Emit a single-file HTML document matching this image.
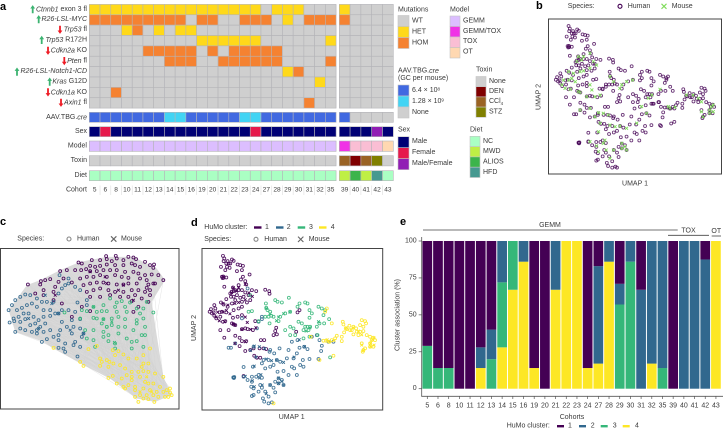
<!DOCTYPE html>
<html lang="en"><head><meta charset="utf-8"><title>HuMo cluster figure</title>
<style>
html,body{margin:0;padding:0;background:#fff}
svg{display:block;font-family:"Liberation Sans",sans-serif}
text{fill:#3a3a3a;font-size:7px;dominant-baseline:central}
.p{font-weight:bold;font-size:11px;fill:#000}
.i{font-style:italic}
.sw{stroke:#c4c4c4;stroke-width:.6}
.f{fill:none;stroke:#444;stroke-width:1}
</style></head><body>
<svg id="fig" xmlns="http://www.w3.org/2000/svg" width="723" height="429" viewBox="0 0 723 429">
<text class="p" x="0" y="7">a</text>
<text class="p" x="536" y="6">b</text>
<text class="p" x="0" y="222">c</text>
<text class="p" x="191" y="223">d</text>
<text class="p" x="400" y="222">e</text>

<g text-anchor="end">
<text x="87" y="9.3"><tspan class="i">Ctnnb1</tspan> exon 3 fl</text>
<text x="87" y="19.3" class="i">R26-LSL-MYC</text>
<text x="87" y="29.7"><tspan class="i">Trp53</tspan> fl</text>
<text x="87" y="40"><tspan class="i">Trp53</tspan> R172H</text>
<text x="87" y="50.7"><tspan class="i">Cdkn2a</tspan> KO</text>
<text x="87" y="61"><tspan class="i">Pten</tspan> fl</text>
<text x="87" y="71.7" class="i">R26-LSL-Notch1-ICD</text>
<text x="87" y="81.7"><tspan class="i">Kras</tspan> G12D</text>
<text x="87" y="92.3"><tspan class="i">Cdkn1a</tspan> KO</text>
<text x="87" y="102.7"><tspan class="i">Axin1</tspan> fl</text>
<text x="87" y="117.3">AAV.TBG.<tspan class="i">cre</tspan></text>
<text x="87" y="131.7">Sex</text>
<text x="87" y="146">Model</text>
<text x="87" y="160.7">Toxin</text>
<text x="87" y="175.7">Diet</text>
<text x="87" y="190">Cohort</text>
</g>
<g>
<path fill="#3cb371" transform="translate(32.7,9.3)" d="M0-4.2L2.4-.8H.9V4H-.9V-.8H-2.4Z"/>
<path fill="#3cb371" transform="translate(38.7,19.3)" d="M0-4.2L2.4-.8H.9V4H-.9V-.8H-2.4Z"/>
<path fill="#ee1c25" transform="translate(60,29.7) scale(1,-1)" d="M0-4.2L2.4-.8H.9V4H-.9V-.8H-2.4Z"/>
<path fill="#3cb371" transform="translate(41.7,40)" d="M0-4.2L2.4-.8H.9V4H-.9V-.8H-2.4Z"/>
<path fill="#ee1c25" transform="translate(48,50.7) scale(1,-1)" d="M0-4.2L2.4-.8H.9V4H-.9V-.8H-2.4Z"/>
<path fill="#ee1c25" transform="translate(64.3,61) scale(1,-1)" d="M0-4.2L2.4-.8H.9V4H-.9V-.8H-2.4Z"/>
<path fill="#3cb371" transform="translate(17,71.7)" d="M0-4.2L2.4-.8H.9V4H-.9V-.8H-2.4Z"/>
<path fill="#3cb371" transform="translate(49.7,81.7)" d="M0-4.2L2.4-.8H.9V4H-.9V-.8H-2.4Z"/>
<path fill="#ee1c25" transform="translate(48,92.3) scale(1,-1)" d="M0-4.2L2.4-.8H.9V4H-.9V-.8H-2.4Z"/>
<path fill="#ee1c25" transform="translate(61,102.7) scale(1,-1)" d="M0-4.2L2.4-.8H.9V4H-.9V-.8H-2.4Z"/>
</g>

<g id="heat"></g>

<g>
<text x="398" y="10">Mutations</text>
<rect class="sw" x="398" y="15.5" width="11" height="11" fill="#cfcfcf"/><text x="412" y="21">WT</text>
<rect class="sw" x="398" y="26.5" width="11" height="11" fill="#ffd91a"/><text x="412" y="32">HET</text>
<rect class="sw" x="398" y="37.5" width="11" height="11" fill="#f58231"/><text x="412" y="43">HOM</text>
<text x="450" y="10">Model</text>
<rect class="sw" x="450" y="16" width="10" height="10.5" fill="#dcbeff"/><text x="463" y="21">GEMM</text>
<rect class="sw" x="450" y="26.5" width="10" height="10.5" fill="#f032e6"/><text x="463" y="31.5">GEMM/TOX</text>
<rect class="sw" x="450" y="37" width="10" height="10.5" fill="#fabed4"/><text x="463" y="41.5">TOX</text>
<rect class="sw" x="450" y="47.5" width="10" height="10.5" fill="#ffd8b1"/><text x="463" y="52">OT</text>
<text x="398" y="71">AAV.TBG.<tspan class="i">cre</tspan></text>
<text x="398" y="78.5">(GC per mouse)</text>
<rect class="sw" x="398" y="85" width="11" height="11" fill="#4169e1"/><text x="412" y="90.5">6.4 × 10<tspan dy="-2" font-size="4.5">8</tspan></text>
<rect class="sw" x="398" y="96" width="11" height="11" fill="#42d4f4"/><text x="412" y="101.5">1.28 × 10<tspan dy="-2" font-size="4.5">9</tspan></text>
<rect class="sw" x="398" y="107" width="11" height="11" fill="#cfcfcf"/><text x="412" y="112.5">None</text>
<text x="476" y="70">Toxin</text>
<rect class="sw" x="476" y="76.5" width="10" height="10.2" fill="#cfcfcf"/><text x="489" y="81.5">None</text>
<rect class="sw" x="476" y="86.7" width="10" height="10.2" fill="#800000"/><text x="489" y="91.5">DEN</text>
<rect class="sw" x="476" y="96.9" width="10" height="10.2" fill="#9a6324"/><text x="489" y="101.5">CCl<tspan dy="1.5" font-size="4.5">4</tspan></text>
<rect class="sw" x="476" y="107.1" width="10" height="10.2" fill="#808000"/><text x="489" y="112">STZ</text>
<text x="398" y="130">Sex</text>
<rect class="sw" x="398" y="136.7" width="11" height="11" fill="#000075"/><text x="412" y="141.5">Male</text>
<rect class="sw" x="398" y="147.7" width="11" height="11" fill="#e6194b"/><text x="412" y="152.5">Female</text>
<rect class="sw" x="398" y="158.7" width="11" height="11" fill="#911eb4"/><text x="412" y="163.5">Male/Female</text>
<text x="470" y="130">Diet</text>
<rect class="sw" x="470" y="136.3" width="10" height="10.3" fill="#aaffc3"/><text x="483" y="141.5">NC</text>
<rect class="sw" x="470" y="146.6" width="10" height="10.3" fill="#bfef45"/><text x="483" y="151.5">MWD</text>
<rect class="sw" x="470" y="156.9" width="10" height="10.3" fill="#3cb44b"/><text x="483" y="162">ALIOS</text>
<rect class="sw" x="470" y="167.2" width="10" height="10.3" fill="#469990"/><text x="483" y="172.5">HFD</text>
</g>

<g>
<text x="567.7" y="6.5">Species:</text>
<circle cx="620" cy="6.3" r="2" fill="none" stroke="#440154" stroke-width="1.1"/>
<text x="627.7" y="6.5">Human</text>
<path d="M661.5 3.8l5 5m0-5l-5 5" stroke="#7fdc5a" stroke-width="1.1"/>
<text x="671.7" y="6.5">Mouse</text>
</g>
<g id="panelB"></g>
<rect class="f" x="548.5" y="19" width="173" height="155"/>
<text x="635" y="184" text-anchor="middle">UMAP 1</text>
<text transform="translate(539,97) rotate(-90)" text-anchor="middle">UMAP 2</text>

<g>
<text x="17.3" y="239">Species:</text>
<circle cx="69" cy="239" r="2" fill="none" stroke="#888" stroke-width="1.1"/>
<text x="77" y="239">Human</text>
<path d="M111 236.3l5.4 5.4m0-5.4l-5.4 5.4" stroke="#666" stroke-width="1.1"/>
<text x="121" y="239">Mouse</text>
</g>
<g id="panelC"></g>
<rect class="f" x="0.5" y="248.5" width="178.5" height="160.5"/>

<g>
<text x="204.3" y="227.3">HuMo cluster:</text>
<rect x="254" y="226.3" width="7.5" height="2.4" fill="#440154"/><text x="265" y="227.3">1</text>
<rect x="276" y="226.3" width="7.5" height="2.4" fill="#31688e"/><text x="286.7" y="227.3">2</text>
<rect x="297.7" y="226.3" width="7.5" height="2.4" fill="#35b779"/><text x="309" y="227.3">3</text>
<rect x="319" y="226.3" width="7.5" height="2.4" fill="#fde725"/><text x="330.7" y="227.3">4</text>
<text x="204.3" y="239.3">Species:</text>
<circle cx="256" cy="239.3" r="2" fill="none" stroke="#888" stroke-width="1.1"/>
<text x="264.3" y="239.3">Human</text>
<path d="M298 236.6l5.4 5.4m0-5.4l-5.4 5.4" stroke="#666" stroke-width="1.1"/>
<text x="308.7" y="239.3">Mouse</text>
</g>
<g id="panelD"></g>
<rect class="f" x="202" y="248.5" width="180.7" height="161.5"/>
<text x="291.7" y="417.7" text-anchor="middle">UMAP 1</text>
<text transform="translate(194.3,328) rotate(-90)" text-anchor="middle">UMAP 2</text>

<g id="panelE"></g>
<text x="550" y="225.3" text-anchor="middle">GEMM</text>
<line x1="423" x2="677.7" y1="230" y2="230" stroke="#444" stroke-width=".8"/>
<text x="688.5" y="231" text-anchor="middle">TOX</text>
<line x1="668" x2="709" y1="235.3" y2="235.3" stroke="#444" stroke-width=".8"/>
<text x="716.3" y="231.5" text-anchor="middle">OT</text>
<line x1="711.7" x2="721" y1="236" y2="236" stroke="#444" stroke-width=".8"/>
<text transform="translate(398,315) rotate(-90)" text-anchor="middle">Cluster association (%)</text>
<text x="572" y="417.7" text-anchor="middle">Cohorts</text>
<g>
<text x="506.7" y="426">HuMo cluster:</text>
<rect x="557" y="425" width="7" height="2.4" fill="#440154"/><text x="568" y="426">1</text>
<rect x="579" y="425" width="7" height="2.4" fill="#31688e"/><text x="590.7" y="426">2</text>
<rect x="600.7" y="425" width="7" height="2.4" fill="#35b779"/><text x="612.7" y="426">3</text>
<rect x="622.7" y="425" width="7" height="2.4" fill="#fde725"/><text x="635" y="426">4</text>
</g>
</svg>
<script>
// ---------- Panel a data ----------
const cohorts=[5,6,8,10,11,12,13,14,15,16,19,20,21,22,23,24,27,28,29,30,31,32,35,39,40,41,42,43];
const mutCtnnb1=[1,1,1,1,1,1,1,1,1,1,1,1,1,1,1,1,0,1,1,1,0,0,0,1,0,0,0,0];
const mutMyc=[2,2,2,2,2,2,2,2,2,0,2,2,0,0,2,2,2,0,1,0,2,2,2,2,0,0,0,0];
const mutTrp53=[0,0,0,1,2,0,1,0,1,1,0,0,0,0,0,0,0,0,0,0,0,0,0,0,0,0,0,0];
const mutR172h=[0,0,0,0,0,0,0,0,0,0,1,1,1,1,1,1,0,0,0,0,0,0,1,0,0,0,0,0];
const mutCdkn2a=[0,0,0,0,0,2,2,2,2,2,0,2,0,2,2,2,2,2,0,0,0,0,0,0,0,0,0,0];
const mutPten=[0,0,0,0,0,0,0,2,2,2,0,0,2,2,2,2,2,2,0,0,0,0,2,0,0,0,0,0];
const mutNotch=[0,0,0,0,0,0,0,0,0,0,0,0,0,0,0,0,0,0,1,2,0,0,0,0,0,0,0,0];
const mutKras=[0,0,0,0,0,0,0,0,0,0,0,0,0,0,0,0,0,0,0,0,0,1,0,0,0,0,0,0];
const mutCdkn1a=[0,0,2,0,0,0,0,0,0,0,0,0,0,0,0,0,0,0,0,0,0,0,0,0,0,0,0,0];
const mutAxin1=[0,0,0,0,0,0,0,0,0,0,0,0,0,0,0,0,0,0,0,0,2,0,0,0,0,0,0,0];
const aavDose=["L","L","L","L","L","L","L","H","H","L","L","L","L","L","H","H","L","L","L","L","L","L","L","L","N","N","N","N"];
const sexValues=["M","F","M","M","M","M","M","M","M","M","M","M","M","M","M","F","M","M","M","M","M","M","M","M","M","M","B","M"];
const modelValues=["G","G","G","G","G","G","G","G","G","G","G","G","G","G","G","G","G","G","G","G","G","G","G","X","T","T","T","O"];
const toxinValues=["N","N","N","N","N","N","N","N","N","N","N","N","N","N","N","N","N","N","N","N","N","N","N","C","D","C","S","N"];
const dietValues=["NC","NC","NC","NC","NC","NC","NC","NC","NC","NC","NC","NC","NC","NC","NC","NC","NC","NC","NC","NC","NC","NC","NC","MWD","ALIOS","MWD","HFD","NC"];

// ---------- Panel e data (percent of each cohort per cluster) ----------
const barCluster1=[71,86,86,100,100,72,60,0,0,0,86,100,0,0,0,86,17,0,29,0,33,0,0,100,0,0,12.5,0];
const barCluster2=[0,0,0,0,0,14,20,28,0,14,0,0,33,0,0,0,66,14,14,14,67,83,86,0,100,100,87.5,0];
const barCluster3=[29,14,14,0,0,0,20,44,33,0,0,0,0,0,0,0,0,0,57,86,0,0,14,0,0,0,0,0];
const barCluster4=[0,0,0,0,0,14,0,28,67,86,14,0,67,100,100,14,17,86,0,0,0,17,0,0,0,0,0,100];
const yTicks=[0,25,50,75,100];

// ---------- Panels b, d data: shared UMAP embedding ----------
const umapHuman1=[[9.8,18.2],[10.2,19],[10,19.8],[11.2,19.8],[12.5,19.3],[13,19.7],[10.8,20.5],[11.5,20.5],[12,20.5],[9.2,21.5],[11,21.5],[11.8,21.8],[10.5,22.5],[14.2,20.8],[15,21],[15.8,21.2],[15.5,22.5],[14,22.8],[17.8,23.8],[9.5,24.5],[10,24.8],[10.8,24.7],[9.7,24.9],[9.9,24.4],[15.8,24.5],[15.2,25.3],[16.5,25.8],[16.8,26.8],[10.2,27.5],[14.5,27],[12.8,27.7],[13,28.8],[12,29.5],[12.4,29],[13.5,28.5],[14.5,28.5],[15.5,28.5],[16.5,29.2],[18.5,28.5],[19.8,28.8],[22.5,28.4],[23.7,28.8],[23.8,29.6],[12.2,30.5],[13,30.5],[14,30],[15,30.8],[16,30.5],[17.5,30],[18,31.5],[17,32.2],[15.5,32],[13.5,31.5],[10.8,31.2],[9.2,32.2],[10,32.8],[7.2,33],[12.5,32.5],[11.2,33.5],[7.5,34],[6.2,34.2],[5.8,35],[6.5,35.5],[7,35.2],[8.8,35.2],[9.5,35],[10.8,35.2],[13,34.5],[14.5,34],[15.5,33.5],[7.2,36.2],[7.8,37],[9,36.5],[9.8,38],[10.5,37.8],[12.5,38.5],[13.5,39],[13,38.8],[12.8,36.8],[14.2,36.5],[15.5,36],[16.5,40],[15.5,40.2],[17.2,40.2],[18.8,40.5],[9,40.5],[10.2,42.8],[11.5,40.5],[13.5,42.2],[14.8,42.8],[15.5,43.8],[16.8,43.8],[21.2,43.5],[22.2,43.5],[20.8,46],[22,46],[22.8,46.2],[14.8,45.3],[16.5,46.8],[18,46.5],[19,46],[19.2,48.2],[20,48.8],[21,48.8],[16,54.3],[19.5,37.8],[25.8,39.8],[25.5,40.8],[26,41.8],[32.8,34.5],[32.2,35.2],[31.8,41],[25,42]];
const umapHuman2=[[17.2,28],[15.5,37],[21.5,36.5],[21.5,37.2],[20.5,38],[20,40],[13.5,44.5],[11.5,45.8],[12.2,45.8],[24,46.5],[25.2,47.5],[18.8,51.5],[16,51.6],[13,54.8],[13.2,54.6],[13.1,54.9],[12.9,54.7],[16,54.5],[18.5,54.5],[20.5,54],[21.5,54.8],[18.5,56],[18.3,57.5],[19,58],[19,60],[18.5,60.3],[21,57],[21.5,57.8],[20.5,59],[24,57],[22.5,59],[25,57.8],[25.5,59.2],[21.8,61],[23.5,60.5],[22.2,62],[23.5,62.5],[24.5,62.2],[25.5,56],[26.5,55],[26.2,53],[26.5,56.5],[27.5,55.5],[28,57],[28,52.8],[29.5,54],[30.5,51.5],[31.2,52],[32,54],[33,51],[33.8,49.5],[34,51.5],[22.5,52],[24,51.5],[25,51],[26,49.5],[27,50],[23.5,49.5],[22,49.5],[21.5,50.5],[29,49],[29.5,46.5],[32,47.5],[31,49],[32.8,45.8],[34.2,45.5],[35.2,46.2],[32.2,43.5],[30.5,44],[35.8,49.2],[38.5,49.2],[39.3,46.8],[39.5,45.2],[38.8,43.5],[36.5,42.5],[38,42],[41.5,44],[43,44],[23.8,47],[19,45.5],[26.8,46],[19.8,54.5],[17.2,55.5]];
const umapHuman3=[[22.7,32.5],[22.8,33.8],[23.2,34.5],[24,35],[22.5,36.5],[23.8,38.5],[24.3,36.2],[25.5,31.5],[26.2,32],[27.5,32.2],[29.6,30.8],[32.8,32.5],[32.2,33.5],[34.5,32.2],[35.2,32.5],[35.8,34.5],[36.5,35.5],[35.8,36.8],[38.5,33.5],[39.5,34],[40.5,34.5],[40,36],[41.7,37.2],[38.8,38.5],[38,39.5],[40.2,38.5],[27,36.5],[28.5,35.5],[30,35],[26.5,37.8],[23.5,36.5],[20.5,37.8],[17.5,35],[18.5,34.8],[28.5,40.5],[30,39.5],[32.5,38],[33.5,38.5],[34.5,39.5],[35.5,40.5],[35.2,39.5],[34,40.5],[31,40],[36,39.5],[34,43],[35.8,42.5],[38.2,42],[30,42],[31.5,42],[25,36.5],[18,30],[42,48.7]];
const umapHuman4=[[41,34],[40.5,35],[42.5,38.5],[45.8,38],[46,38.8],[40,43.7],[40.8,43.7],[41.8,44],[42.5,43.5],[43.5,43],[44,42.2],[45.5,42.5],[45.5,43.8],[46.2,41.2],[47.8,39.2],[49,39.5],[49.8,40],[48,40.5],[47,40.2],[51.5,37.5],[52.5,37.8],[52.8,38.5],[52,39.5],[51,39],[50,41],[51,41],[52,40.8],[49,41.8],[50.5,42],[53,42],[54,42.5],[55,42.8],[55.5,43.5],[54.5,43.5],[54,44.5],[55,45.5],[54,45.5],[52.5,46],[52,46.5],[51.8,47],[43,48.2],[38.8,49.5],[36.2,42.5],[25,62.5],[48.5,40.5],[51.5,44.5],[46.7,40]];
const umapMouse1=[[12.9,27.8],[14.5,27.8],[16.5,26.7],[13.9,28.8],[12.4,29.3],[17.6,29.3],[18.6,30.4],[16.5,31.4],[9.8,32.5],[11.3,33],[13.4,32.5],[14.5,32.2],[8.2,35.1],[9.8,35.1],[10.8,34.6],[11.9,35.6],[7.7,36.6],[8.7,37.7],[10.3,38],[12.9,38.7],[13.4,39],[16.5,36.6],[17.1,38.2],[15.5,40.3],[18.1,40.3],[19.7,39.8],[13.4,44.5],[16.5,44]];
const umapMouse2=[[19.2,45.3],[18.1,46.6],[20.7,45.5],[22.3,46],[22.8,49.2],[24.4,49.7],[25.9,49.5],[19.7,48.6],[19.2,51.3],[28,50.2],[31.2,48.6],[21.2,53.9],[20.7,54.9],[16.5,54.4],[18.6,55.7],[21.6,57],[23.9,57],[19.2,57.5],[22.8,59.6],[26.5,54.9],[27.5,55.9],[28,57],[26.5,56.5],[34.3,45.5],[32.7,43.4]];
const umapMouse3=[[22.8,34],[23.9,35.6],[26.5,36.6],[28,35.6],[29.9,35.1],[25.9,37.7],[35.9,39.8],[34.8,40.8],[38.5,38]];
const umapMouse4=[[41.6,43.9],[43.2,43.6],[41.1,43.4],[48.9,39.8],[50.5,40.8],[51.5,41.9],[46.8,39.8],[51.5,45],[52,46.6],[54.1,45.5],[54.7,43.4],[55.2,42.9],[54.1,44.5],[55.2,45]];

// ---------- Panel c data: integrated embedding ----------
const netHuman1=[[31.8,18.3],[32,19.2],[34.7,18.2],[35,19],[38.5,18.5],[40,18.7],[40.8,19.2],[37,19.5],[33.5,19.8],[30,19.5],[27.5,19.5],[23.5,20.2],[24.5,20.5],[27,21.2],[28.5,21.5],[30,21.2],[32,20.8],[34.5,21],[37,21],[39.5,20.5],[40.5,21],[42,21.5],[43.5,20],[45,21],[46.2,20.8],[46,21.8],[18,22.8],[20,22.5],[22.5,22.5],[24.3,22.5],[25.8,22.2],[27,22.8],[29,22.8],[31,22.5],[33,22.5],[35,22.5],[37.5,23],[40,23],[41.5,23.5],[43.5,24],[45.5,23.8],[47.5,24],[49,25.5],[13.5,25.5],[15,25.2],[12.2,25.8],[12,26.8],[8.3,26.8],[17.5,26],[19,25],[21.5,26.2],[24,25],[26,24.5],[28,24.5],[30,24],[32,24.5],[34.5,24],[36.5,24.5],[38.5,24.8],[42,25],[44,25.5],[46,26.5],[16.5,27.5],[16,29],[13,28.5],[25,27],[27,26.5],[29,26.2],[31,26.2],[32.5,26.5],[35,26.8],[37,26.8],[38.5,26.5],[41,26.5],[44.5,26.8],[46.5,26.5],[44,27.8],[26,29],[28,28.5],[30,28],[32.5,28.5],[34.5,29],[37,29],[39.5,28.5],[41.5,28.5],[43.5,29],[45,30],[27,30.5],[30,30.5],[33,30],[36,30.5],[38.5,30.5],[40.5,30],[42.5,31],[44.5,32],[39.5,31.8],[41.5,33.5],[40,35],[45,28.5],[16,31.5],[18.5,32.5],[21.5,36.5],[27,34.8],[24.5,33.5],[10.5,29.5],[13,30]];
const netHuman2=[[2.5,34.5],[3.5,33],[4.5,31.5],[6,30.5],[7.5,29.8],[9,30],[11,31],[12.5,32],[14,32],[16,32],[17.5,29.5],[18.5,28],[19.5,27],[20.5,26.5],[22.5,27.5],[24,28.5],[17.8,24],[20.5,25],[26,31.5],[26,33],[23.2,32.2],[5,34.5],[6.5,33.8],[8,33],[9.5,32.5],[11,33.5],[13,34.5],[15,34.5],[16.5,35.5],[18.5,34.5],[20.5,34.5],[22.5,35],[4,37],[5.5,36.5],[7,35.5],[8.5,35.5],[10,36.5],[11.5,37.5],[13,36.5],[15,36.2],[17.5,35.5],[2.8,38.2],[4.2,37.8],[6,38],[7.5,37.2],[9,39],[10.5,38.5],[12,39.5],[11,40.5],[13.5,38.5],[18.5,38],[21.5,37.5],[24,37.2],[4.5,41],[6,40],[7.5,40.5],[9.5,41],[11,41.5],[13,41],[15,40.5],[18,40.5],[20,39.5],[22,39.5],[24,40],[12.5,44],[14,43.2],[17.5,42],[17.5,43.5],[19.5,44.5],[22.5,44],[24.5,42.5],[25,41.5],[21.5,41.5],[16,42.5],[19,46],[17.5,45.8],[22,45],[24,45.5],[23.2,48.4],[19.5,47]];
const netHuman3=[[33,31],[35,32.2],[36.5,31.8],[39,32.2],[44,32],[28,33.5],[31,33],[34.5,33.5],[37.5,33.5],[41,34],[43,34],[46,35.2],[19.3,35.2],[24.5,34.5],[26,34.8],[29,35],[30.5,34.8],[32,34.8],[35,35],[38,35],[42,35.5],[24,37],[28,36.8],[29,37],[31,37.2],[33.5,37],[35.5,36.5],[37.5,37.2],[41,37.5],[43,37],[30.5,38.5],[32,39.5],[33.5,39],[35.5,39.5],[37.5,39.5],[41,38.5],[43.5,39.5],[25.5,40.5],[28,40.5],[31,41],[32.5,42],[35.5,41.5],[40,40.5],[42.5,42],[43.5,42],[26,43],[28,43.5],[31,42.5],[32.5,43.8],[34.5,44.5],[38,43],[39.5,44],[41,43.8],[28.5,45.5],[34.5,46],[39.5,46],[43,45.5],[32,39.5]];
const netHuman4=[[16,45.8],[26.5,46.2],[29,45.2],[45,46],[24,50],[25,51.2],[33.8,46.5],[35.5,46.8],[34.5,48],[37,47.8],[38.5,49],[41,49],[43,48],[30,49],[32,49.5],[32.8,50],[30.5,50],[34,50.5],[30,51.2],[32.5,51.5],[36,51],[43,50.5],[44.5,50.5],[42.5,51.5],[37.5,52],[39.5,53],[41.5,53],[43,52.8],[44.5,53],[38,54],[39.5,54.5],[32.5,54.8],[33.8,54.2],[36.5,55],[39.5,55.5],[42,54.5],[46.5,53.5],[49,54.5],[35,56.5],[37,57.5],[38.5,57],[40.5,57.5],[43.5,56],[44.5,56.5],[46,56.5],[48,57.5],[37.5,58],[40.5,58.5],[43,58],[45,58.5],[47,59],[49,59],[51,58],[50,58.5],[51.5,60],[50.5,60.5],[40.5,60.5],[42,60],[44,60],[46,60],[47.5,60.5],[49.5,60.5],[41.5,62],[43,61],[44.5,61.2],[46.3,62],[51,59.2]];
const netMouse1=[[27,23],[31.5,24.5],[32,26.5],[37,27],[40,31.5],[16.5,30],[35.5,28.5]];
const netMouse2=[[13.5,30],[8.5,37],[11.5,40],[15.5,32.5],[17.5,35.5],[21,40.5],[25,41.5]];
const netMouse3=[[28,33.5],[31,37.2],[33.5,38],[34.3,44.2]];
const netMouse4=[[44,54.5],[45.5,59],[42,59]];
const netOutline=[[32,18.5],[40,18.5],[47,22],[49.5,25.5],[45.5,32],[47,42],[49,54.5],[51.5,60],[46.5,62],[41,61],[33,55],[25,51],[16,46],[13,44],[4.5,41],[2.5,34.5],[8,27],[12,25.5],[18,22.5],[24,20]];

// ---------- Scale helpers ----------
const NS='http://www.w3.org/2000/svg';
function node(parent,tag,attrs){const e=document.createElementNS(NS,tag);for(const k in attrs)e.setAttribute(k,attrs[k]);parent.appendChild(e);return e;}
function linear(d0,d1,r0,r1){return v=>r0+(v-d0)/(d1-d0)*(r1-r0);}

// ---------- Heatmap ----------
const mutColor=["#cfcfcf","#ffd91a","#f58231"];
const aavColor={L:"#4169e1",H:"#42d4f4",N:"#cfcfcf"};
const sexColor={M:"#000075",F:"#e6194b",B:"#911eb4"};
const modelColor={G:"#dcbeff",X:"#f032e6",T:"#fabed4",O:"#ffd8b1"};
const toxinColor={N:"#cfcfcf",C:"#9a6324",D:"#800000",S:"#808000"};
const dietColor={NC:"#aaffc3",MWD:"#bfef45",ALIOS:"#3cb44b",HFD:"#469990"};
const heat=document.getElementById('heat');
function colX(i){return i<23?89.3+i*10.73:339.3+(i-23)*10.8;}
function colW(i){return i<23?10.73:10.8;}
function drawRow(values,colorOf,top,h,name){
  values.forEach((v,i)=>{
    const c=node(heat,'rect',{x:colX(i),y:top,width:colW(i),height:h,fill:colorOf(v),stroke:'#b4b4b8','stroke-width':.6});
    
    
  });
}
const mutationRows=[[mutCtnnb1,'ctnnb1'],[mutMyc,'myc'],[mutTrp53,'trp53'],[mutR172h,'r172h'],[mutCdkn2a,'cdkn2a'],[mutPten,'pten'],[mutNotch,'notch'],[mutKras,'kras'],[mutCdkn1a,'cdkn1a'],[mutAxin1,'axin1']];
mutationRows.forEach((r,k)=>drawRow(r[0],v=>mutColor[v],4.4+k*10.37,10.37,r[1]));
drawRow(aavDose,v=>aavColor[v],112.3,10,'aav');
drawRow(sexValues,v=>sexColor[v],126.7,10,'sex');
drawRow(modelValues,v=>modelColor[v],141,10.4,'model');
drawRow(toxinValues,v=>toxinColor[v],155.7,10.2,'toxin');
drawRow(dietValues,v=>dietColor[v],170.7,10,'diet');
cohorts.forEach((c,i)=>{
  const t=node(heat,'text',{x:colX(i)+colW(i)/2,y:190,'text-anchor':'middle'});
  t.style.fontSize='6.6px';
  t.textContent=c;
  
  
  if(i!==22&&i!==27){
    const s=node(heat,'line',{x1:colX(i)+colW(i),x2:colX(i)+colW(i),y1:185.5,y2:195,stroke:'#e2e2e2','stroke-width':.7});
    
    
  }
});

// ---------- Scatter ----------
const clusterColor=["#440154","#31688e","#35b779","#fde725"];
function drawCircle(g,x,y,color,op){
  const c=node(g,'circle',{cx:x,cy:y,r:1.45,fill:'none',stroke:color,'stroke-width':.85,'stroke-opacity':op});
  
  
}
function drawCross(g,x,y,color,s){
  const c=node(g,'path',{d:`M${x-s} ${y-s}L${x+s} ${y+s}M${x+s} ${y-s}L${x-s} ${y+s}`,stroke:color,'stroke-width':.85,fill:'none'});
  
  
}
const humanSets=[umapHuman1,umapHuman2,umapHuman3,umapHuman4];
const mouseSets=[umapMouse1,umapMouse2,umapMouse3,umapMouse4];

// Panel b
const gB=document.getElementById('panelB');
const bx=linear(3.5,57.8,548.5,721.5),by=linear(16,64.5,19,174);
humanSets.forEach(set=>set.forEach(p=>drawCircle(gB,bx(p[0]),by(p[1]),'#440154',.8)));
mouseSets.forEach(set=>set.forEach(p=>drawCross(gB,bx(p[0]),by(p[1]),'#7fdc5a',1.5)));

// Panel d
const gD=document.getElementById('panelD');
const dx=linear(3.5,57.8,202,382.7),dy=linear(16,64.5,248.5,410);
humanSets.forEach((set,k)=>set.forEach(p=>drawCircle(gD,dx(p[0]),dy(p[1]),clusterColor[k],.9)));
mouseSets.forEach((set,k)=>set.forEach(p=>drawCross(gD,dx(p[0]),dy(p[1]),clusterColor[k],1.4)));

// Panel c
const gC=document.getElementById('panelC');
const cx=linear(0,53.8,0.3,179.3),cy=linear(16,64.3,248.5,409.5);
const hull=node(gC,'polygon',{points:netOutline.map(p=>cx(p[0])+','+cy(p[1])).join(' '),fill:'#dadada'});


const netSets=[netHuman1,netHuman2,netHuman3,netHuman4];
[[0,2],[2,3],[1,2],[1,3],[0,3]].forEach(pair=>{
  const a=netSets[pair[0]],b=netSets[pair[1]];
  a.forEach((p,i)=>{
    if(i>=b.length)return;
    const q=b[i];
    const l=node(gC,'line',{x1:cx(p[0]),y1:cy(p[1]),x2:cx(q[0]),y2:cy(q[1]),stroke:'#d2d2d2','stroke-width':.3});
    
    
  });
});
netSets.forEach((set,k)=>set.forEach(p=>drawCircle(gC,cx(p[0]),cy(p[1]),clusterColor[k],.95)));
[netMouse1,netMouse2,netMouse3,netMouse4].forEach((set,k)=>set.forEach(p=>drawCross(gC,cx(p[0]),cy(p[1]),clusterColor[k],1.4)));

// ---------- Panel e bars ----------
const gE=document.getElementById('panelE');
const ex=i=>427.3+i*10.69;
const ey=linear(0,100,388.7,241);
cohorts.forEach((c,i)=>{
  let base=0;
  [[barCluster4,3],[barCluster3,2],[barCluster2,1],[barCluster1,0]].forEach(s=>{
    const v=s[0][i];
    if(v>0){
      const r=node(gE,'rect',{x:ex(i)-4.85,y:ey(base+v),width:9.7,height:ey(base)-ey(base+v),fill:clusterColor[s[1]]});
      
      
      base+=v;
    }
  });
  const t=node(gE,'line',{x1:ex(i),x2:ex(i),y1:396.3,y2:399,stroke:'#555','stroke-width':.7});
  
  
  const lb=node(gE,'text',{x:ex(i),y:406,'text-anchor':'middle'});
  lb.textContent=c;
  
  
});
const axY=node(gE,'line',{x1:421.7,x2:421.7,y1:237,y2:396.3,stroke:'#555','stroke-width':.8});


const axX=node(gE,'line',{x1:421.3,x2:723,y1:396.3,y2:396.3,stroke:'#555','stroke-width':.8});


yTicks.forEach(v=>{
  const t=node(gE,'line',{x1:418.7,x2:421.7,y1:ey(v),y2:ey(v),stroke:'#555','stroke-width':.7});
  
  
  const lb=node(gE,'text',{x:416.7,y:ey(v),'text-anchor':'end'});
  lb.textContent=v;
  
  
});
</script>
</body></html>
